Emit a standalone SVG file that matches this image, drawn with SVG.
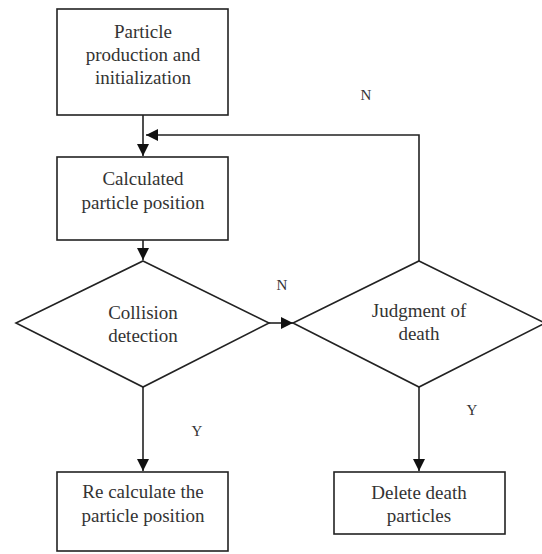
<svg xmlns="http://www.w3.org/2000/svg" width="542" height="554" viewBox="0 0 542 554">
<style>
.shape{fill:#fff;stroke:#222;stroke-width:1.6}
.line{fill:none;stroke:#222;stroke-width:1.6}
.t{font-size:19px;fill:#333;text-anchor:middle}
.lb{font-size:15px;fill:#333;text-anchor:middle}
</style>
<defs>
<marker id="arr" viewBox="0 0 12 12" refX="12" refY="6" markerWidth="12" markerHeight="12" markerUnits="userSpaceOnUse" orient="auto">
<path d="M0,0 L12,6 L0,12 z" fill="#111"/>
</marker>
</defs>
<rect width="542" height="554" fill="#fff"/>
<g font-family="Liberation Serif, DejaVu Serif, serif">
<g id="connectors">
<line class="line" x1="143" y1="115" x2="143" y2="156" marker-end="url(#arr)"/>
<line class="line" x1="143" y1="240" x2="143" y2="260" marker-end="url(#arr)"/>
<line class="line" x1="143" y1="387" x2="143" y2="471" marker-end="url(#arr)"/>
<line class="line" x1="269" y1="323" x2="293" y2="323" marker-end="url(#arr)"/>
<polyline class="line" points="419,261 419,135 146,135" marker-end="url(#arr)"/>
<line class="line" x1="419" y1="387" x2="419" y2="471" marker-end="url(#arr)"/>
<text class="lb" x="366" y="100">N</text>
<text class="lb" x="282" y="290">N</text>
<text class="lb" x="197" y="436">Y</text>
<text class="lb" x="472" y="415">Y</text>
</g>
<g id="init">
<rect class="shape" x="57" y="9" width="171" height="106"/>
<text class="t" x="143" y="38">Particle</text>
<text class="t" x="143" y="61">production and</text>
<text class="t" x="143" y="84">initialization</text>
</g>
<g id="calc">
<rect class="shape" x="57" y="157" width="171" height="83"/>
<text class="t" x="143" y="185">Calculated</text>
<text class="t" x="143" y="209">particle position</text>
</g>
<g id="collision">
<polygon class="shape" points="143,261 269,323 143,387 16,323"/>
<text class="t" x="143" y="319">Collision</text>
<text class="t" x="143" y="342">detection</text>
</g>
<g id="judgment">
<polygon class="shape" points="419,261 545,323 419,387 293,323"/>
<text class="t" x="419" y="317">Judgment of</text>
<text class="t" x="419" y="340">death</text>
</g>
<g id="recalc">
<rect class="shape" x="57" y="472" width="171" height="79"/>
<text class="t" x="143" y="498">Re calculate the</text>
<text class="t" x="143" y="522">particle position</text>
</g>
<g id="delete">
<rect class="shape" x="334" y="472" width="171" height="62"/>
<text class="t" x="419" y="499">Delete death</text>
<text class="t" x="419" y="522">particles</text>
</g>
</g>
</svg>
